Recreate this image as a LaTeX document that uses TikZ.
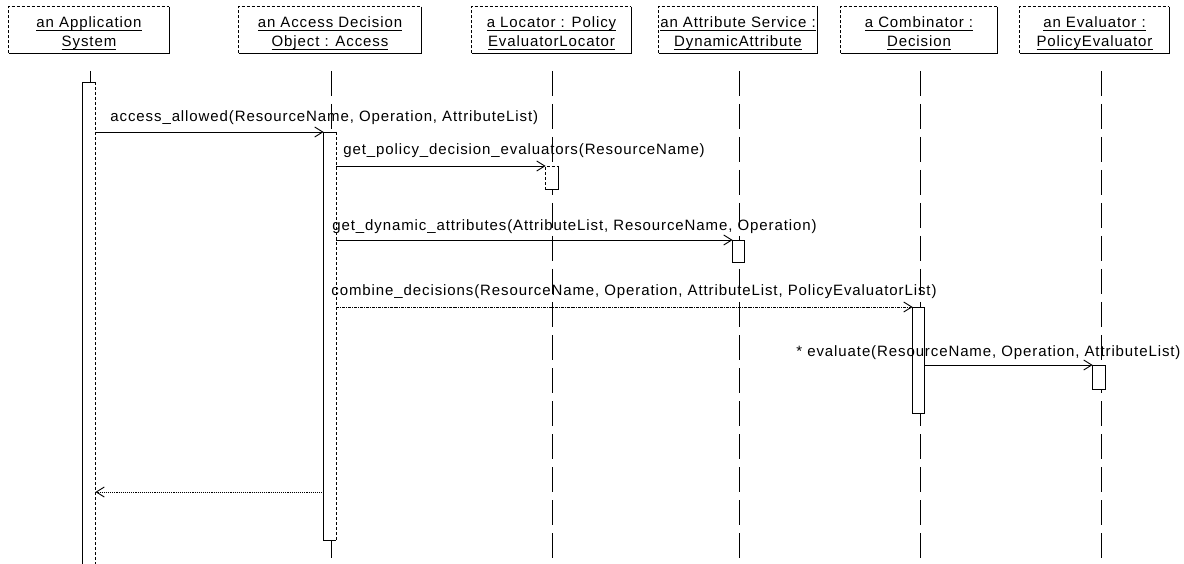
\documentclass[tikz,border=0pt]{standalone}
\usepackage{amsmath}
\usepackage{fontspec}
\setmainfont{Liberation Sans}[LetterSpace=6.0]
\usepackage{tikz}
\usetikzlibrary{arrows.meta,calc,positioning}
\newcommand{\objul}[1]{\underline{\smash[b]{#1}\rule[-1.5pt]{0pt}{1pt}}}
\tikzstyle{objbox}=[rectangle, inner sep=0pt, minimum height=46pt]
\tikzstyle{objtext}=[align=center, inner sep=0pt]
\tikzstyle{act}=[rectangle, fill=white, inner sep=0pt,
                 minimum width=12pt]
\tikzstyle{lifeline}=[line width=1pt, dash pattern=on 25pt off 8pt]
\tikzstyle{call}=[line width=0.9pt,
                  -{Straight Barb[length=8pt,width=10pt]}]
\tikzstyle{ret}=[call, densely dotted]
\tikzstyle{msg}=[anchor=base west, inner sep=0pt]

\begin{document}
\begin{tikzpicture}[x=1pt, y=-1pt, line width=0.9pt,
                    font=\fontsize{15pt}{19pt}\selectfont]

    \useasboundingbox (0,0) rectangle (1184,564);

    % objects
    \foreach \n/\x/\w/\la/\lb in {app/89/160/an Application/System,
        acc/330/182/an Access Decision/Object : Access,
        loc/551.5/159/a Locator : Policy/EvaluatorLocator,
        att/738/158/an Attribute Service :/DynamicAttribute,
        comb/919/156/a Combinator :/Decision,
        eval/1094.5/149/an Evaluator :/PolicyEvaluator}
    {
        \node[objbox, minimum width=\w pt] (\n) at (\x,30) {};
        \node[objtext] (\n T) at ($(\n)+(0,3.5)$) {\objul{\la}\\\objul{\lb}};
        \draw[densely dashed] (\n.south west) |- (\n.north east);
        \draw (\n.north east) |- (\n.south west);
    }

    % lifelines
    \coordinate (bot) at (0,564);
    \foreach \n/\x in {app/90,acc/331,loc/552,att/739,comb/920,eval/1101}
        \coordinate (\n L) at (\x,71);
    \foreach \n in {acc,loc,att,comb,eval}
        \draw[lifeline] (\n L) -- (\n L |- bot);

    % activations
    \node[act, minimum height=493pt, anchor=north] (appA) at (89,82) {};
    \node[act, minimum height=408pt, anchor=north] (accA) at (330,132) {};
    \node[act, minimum height=23pt, anchor=north] (locA) at (552,166) {};
    \node[act, minimum height=22pt, minimum width=11pt, anchor=north]
        (attA) at (738.5,240) {};
    \node[act, minimum height=106pt, minimum width=11pt, anchor=north]
        (combA) at (918.5,307) {};
    \node[act, minimum height=24pt, anchor=north] (evalA) at (1099,365) {};

    \draw (appL) -- (appL |- appA.north);
    \foreach \n in {appA,accA}
    {
        \draw (\n.north east) -- (\n.north west) -- (\n.south west)
              -- (\n.south east);
        \draw[densely dashed] (\n.north east) -- (\n.south east);
    }
    \draw[densely dashed] (locA.south west) |- (locA.north east);
    \draw (locA.north east) |- (locA.south west);
    \foreach \n in {attA,combA,evalA}
        \draw (\n.south west) rectangle (\n.north east);

    % messages
    \node[msg] (m1) at (110,122)
        {access\_allowed(ResourceName, Operation, AttributeList)};
    \node[msg] (m2) at (343,155)
        {get\_policy\_decision\_evaluators(ResourceName)};
    \node[msg] (m3) at (332,231)
        {get\_dynamic\_attributes(AttributeList, ResourceName, Operation)};
    \node[msg] (m4) at (331,295)
        {combine\_decisions(ResourceName, Operation, AttributeList, PolicyEvaluatorList)};
    \node[msg] (m5) at (796,356)
        {* evaluate(ResourceName, Operation, AttributeList)};

    \draw[call] (appA.east |- accA.north) -- (accA.north west);
    \draw[call] (accA.east |- locA.north) -- (locA.north west);
    \draw[call] (accA.east |- attA.north) -- (attA.north west);
    \draw[call, densely dashdotted] (accA.east |- combA.north) -- (combA.north west);
    \draw[call] (combA.east |- evalA.north) -- (evalA.north west);

    \coordinate (back) at (0,492);
    \draw[ret] (accA.west |- back) -- (appA.east |- back);

\end{tikzpicture}
\end{document}
